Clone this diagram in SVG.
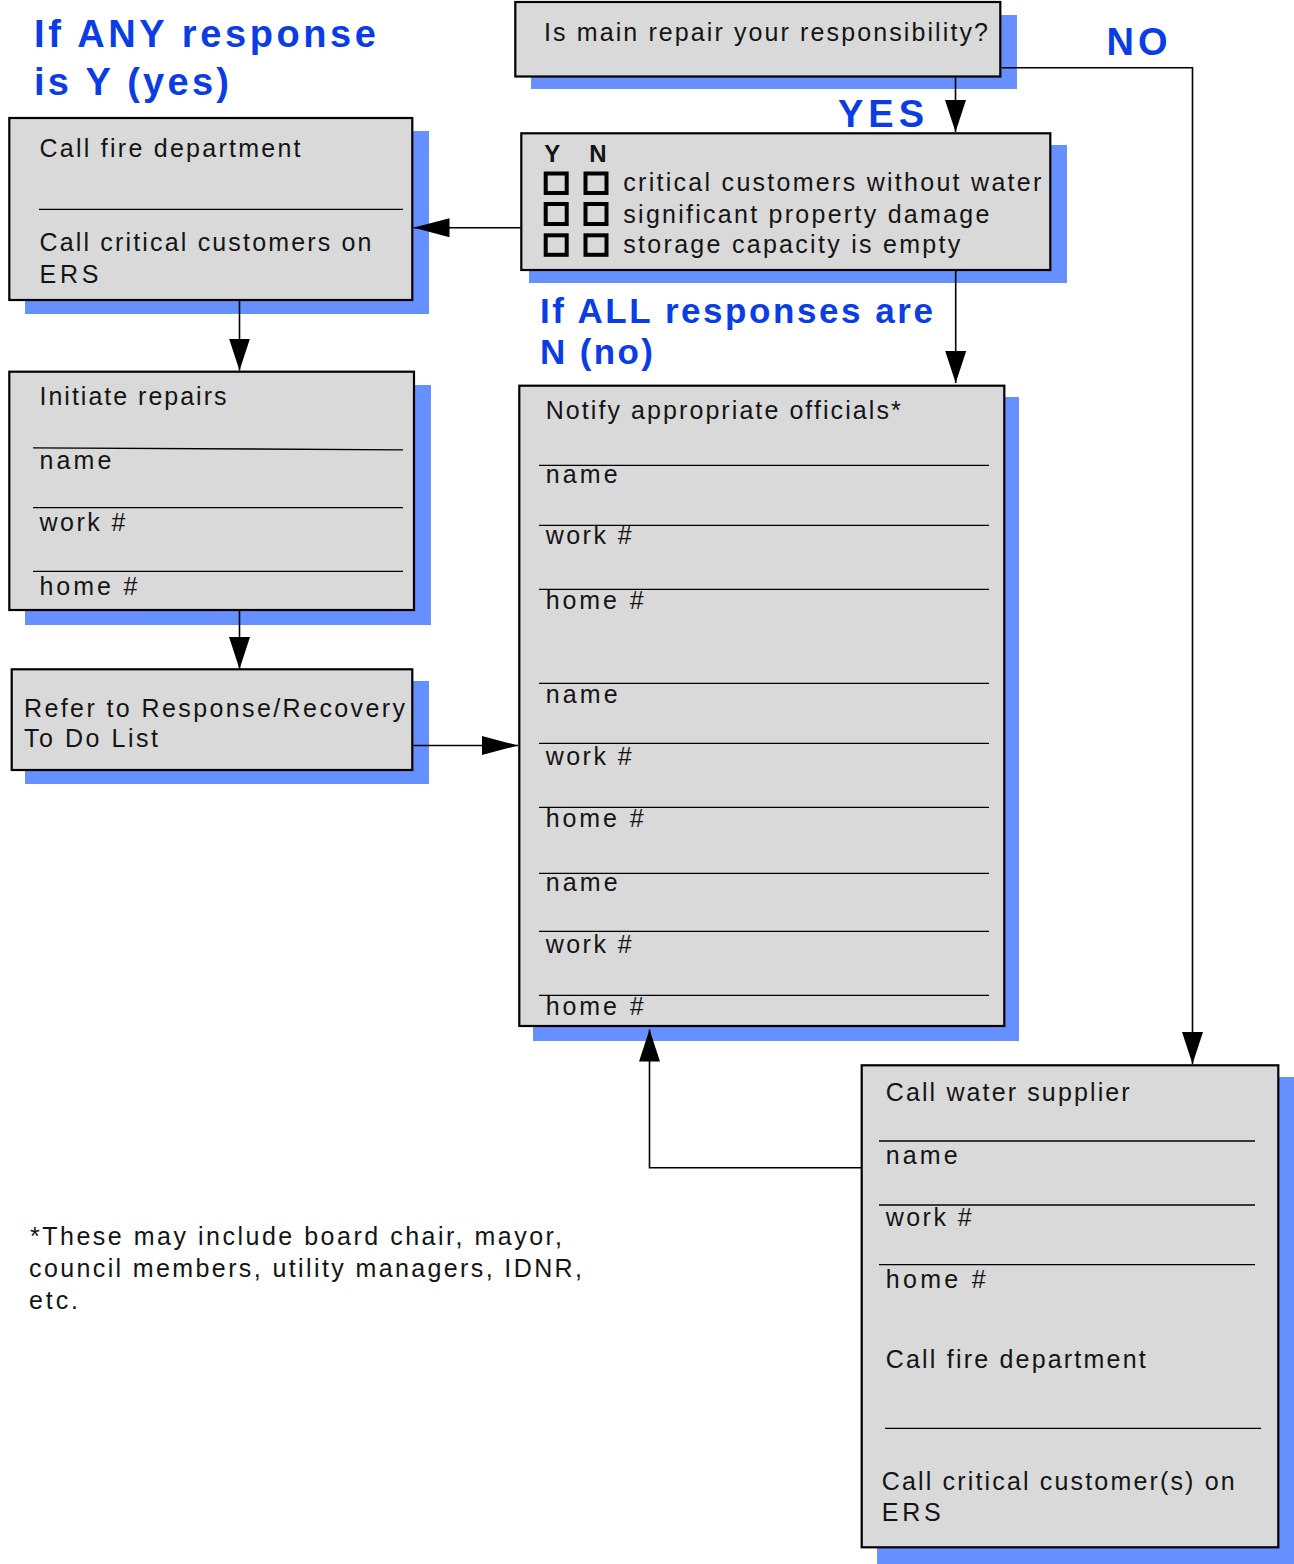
<svg xmlns="http://www.w3.org/2000/svg" width="1294" height="1564" viewBox="0 0 1294 1564">
<defs>
<style>
.box{fill:#d9d9d9;stroke:#000;stroke-width:2.2}
.sh{fill:#668fff}
.t{font-family:"Liberation Sans",Arial,Helvetica,sans-serif;font-size:25px;fill:#141414}
.b{font-family:"Liberation Sans",Arial,Helvetica,sans-serif;font-size:24px;font-weight:bold;fill:#141414}
.h{font-family:"Liberation Sans",Arial,Helvetica,sans-serif;font-weight:bold;fill:#0a3de6}
.rule{stroke:#000;stroke-width:1.3}
.cb{fill:none;stroke:#000;stroke-width:4}
.conn{stroke:#000;stroke-width:1.6;fill:none}
</style>
<marker id="ah" markerUnits="userSpaceOnUse" markerWidth="32" markerHeight="22" viewBox="0 0 32 22" refX="32" refY="11" orient="auto"><path d="M0,0.5 L32,11 L0,21.5z" fill="#000"/></marker>
<marker id="ahL" markerUnits="userSpaceOnUse" markerWidth="36" markerHeight="20" viewBox="0 0 36 20" refX="36" refY="10" orient="auto"><path d="M0,0.5 L36,10 L0,19.5z" fill="#000"/></marker>
</defs>
<rect width="1294" height="1564" fill="#fff"/>

<g id="labels">
<text class="h" font-size="38" x="34" y="47" textLength="342">If ANY response</text>
<text class="h" font-size="38" x="34" y="94.5" textLength="195">is Y (yes)</text>
<text class="h" font-size="38" x="838" y="126.7" textLength="86">YES</text>
<text class="h" font-size="38" x="1106.5" y="55" textLength="61">NO</text>
<text class="h" font-size="35" x="540" y="322.7" textLength="393">If ALL responses are</text>
<text class="h" font-size="35" x="540" y="364.3" textLength="113">N (no)</text>
</g>

<g id="node-question">
<rect class="sh" x="531" y="15" width="486" height="74"/>
<rect class="box" x="515.3" y="2" width="485" height="74.5"/>
<text class="t" x="544" y="40.7" textLength="444">Is main repair your responsibility?</text>
</g>

<g id="node-checklist">
<rect class="sh" x="529" y="145" width="538" height="138"/>
<rect class="box" x="521.3" y="133.3" width="529" height="136.7"/>
<text class="b" x="544.3" y="162.3">Y</text>
<text class="b" x="589.3" y="162.3">N</text>
<rect class="cb" x="545.7" y="173.5" width="21" height="19.5"/>
<rect class="cb" x="585.5" y="173.5" width="21" height="19.5"/>
<rect class="cb" x="545.7" y="204" width="21" height="20"/>
<rect class="cb" x="585.5" y="204" width="21" height="20"/>
<rect class="cb" x="545.7" y="235.3" width="21" height="19.5"/>
<rect class="cb" x="585.5" y="235.3" width="21" height="19.5"/>
<text class="t" x="623.3" y="191" textLength="418">critical customers without water</text>
<text class="t" x="623.3" y="222.7" textLength="366">significant property damage</text>
<text class="t" x="623.3" y="252.7" textLength="337">storage capacity is empty</text>
</g>

<g id="node-fire">
<rect class="sh" x="25" y="131" width="404" height="183"/>
<rect class="box" x="9.3" y="118" width="403" height="182"/>
<text class="t" x="39.5" y="157" textLength="261">Call fire department</text>
<line class="rule" x1="39" y1="209.3" x2="403" y2="209.3"/>
<text class="t" x="39.5" y="251" textLength="332">Call critical customers on</text>
<text class="t" x="39.5" y="282.5" textLength="59">ERS</text>
</g>

<g id="node-repairs">
<rect class="sh" x="25" y="385" width="406" height="240"/>
<rect class="box" x="9.3" y="371.7" width="404.7" height="238.3"/>
<text class="t" x="39.5" y="405" textLength="187">Initiate repairs</text>
<line class="rule" x1="33" y1="447.8" x2="403" y2="449.8" stroke-width="2"/>
<text class="t" x="39.5" y="469" textLength="72">name</text>
<line class="rule" x1="33" y1="507.7" x2="403" y2="507.7" stroke-width="1.8"/>
<text class="t" x="39.5" y="530.7" textLength="86">work #</text>
<line class="rule" x1="33" y1="571.3" x2="403" y2="571.3"/>
<text class="t" x="39.5" y="595" textLength="98">home #</text>
</g>

<g id="node-refer">
<rect class="sh" x="25" y="681" width="404" height="103"/>
<rect class="box" x="11.7" y="669.3" width="400.6" height="100.7"/>
<text class="t" x="24" y="717.3" textLength="381">Refer to Response/Recovery</text>
<text class="t" x="24" y="747.3" textLength="134">To Do List</text>
</g>

<g id="node-notify">
<rect class="sh" x="533" y="397" width="486" height="644"/>
<rect class="box" x="519.3" y="385.7" width="485" height="640.3"/>
<text class="t" x="545.7" y="419" textLength="355">Notify appropriate officials*</text>
<line class="rule" x1="539" y1="465.3" x2="989" y2="465.3"/>
<text class="t" x="545.7" y="482.7" textLength="72">name</text>
<line class="rule" x1="539" y1="525.3" x2="989" y2="525.3"/>
<text class="t" x="545.7" y="544.3" textLength="86">work #</text>
<line class="rule" x1="539" y1="589.3" x2="989" y2="589.3"/>
<text class="t" x="545.7" y="609" textLength="98">home #</text>
<line class="rule" x1="539" y1="683.3" x2="989" y2="683.3"/>
<text class="t" x="545.7" y="703.3" textLength="72">name</text>
<line class="rule" x1="539" y1="743.3" x2="989" y2="743.3"/>
<text class="t" x="545.7" y="765" textLength="86">work #</text>
<line class="rule" x1="539" y1="807.3" x2="989" y2="807.3"/>
<text class="t" x="545.7" y="827.3" textLength="98">home #</text>
<line class="rule" x1="539" y1="873.3" x2="989" y2="873.3"/>
<text class="t" x="545.7" y="891" textLength="72">name</text>
<line class="rule" x1="539" y1="931.3" x2="989" y2="931.3"/>
<text class="t" x="545.7" y="952.7" textLength="86">work #</text>
<line class="rule" x1="539" y1="995.3" x2="989" y2="995.3"/>
<text class="t" x="545.7" y="1015" textLength="98">home #</text>
</g>

<g id="node-water">
<rect class="sh" x="877" y="1077" width="417" height="487"/>
<rect class="box" x="861.7" y="1065.3" width="416.6" height="482"/>
<text class="t" x="885.7" y="1101" textLength="244">Call water supplier</text>
<line class="rule" x1="879" y1="1141" x2="1255" y2="1141"/>
<text class="t" x="885.7" y="1164.3" textLength="72">name</text>
<line class="rule" x1="879" y1="1205" x2="1255" y2="1205"/>
<text class="t" x="885.7" y="1226" textLength="86">work #</text>
<line class="rule" x1="879" y1="1264.7" x2="1255" y2="1264.7"/>
<text class="t" x="885.7" y="1287.7" textLength="100">home #</text>
<text class="t" x="885.7" y="1368.3" textLength="260">Call fire department</text>
<line class="rule" x1="885" y1="1428.3" x2="1261" y2="1428.3"/>
<text class="t" x="881.7" y="1490" textLength="353">Call critical customer(s) on</text>
<text class="t" x="881.7" y="1521" textLength="59">ERS</text>
</g>

<g id="footnote">
<text class="t" x="30" y="1245" textLength="532">*These may include board chair, mayor,</text>
<text class="t" x="29" y="1277" textLength="553">council members, utility managers, IDNR,</text>
<text class="t" x="29" y="1309" textLength="49">etc.</text>
</g>

<g id="connectors">
<path class="conn" d="M955.5,77.5 V132" marker-end="url(#ah)"/>
<path class="conn" d="M1001.5,67.7 H1192.5 V1064" marker-end="url(#ah)"/>
<path class="conn" d="M520.5,227.7 H413.5" marker-end="url(#ahL)"/>
<path class="conn" d="M955.7,271 V383" marker-end="url(#ah)"/>
<path class="conn" d="M239.5,301 V370.5" marker-end="url(#ah)"/>
<path class="conn" d="M239.5,611 V669" marker-end="url(#ah)"/>
<path class="conn" d="M413.5,745.5 H518" marker-end="url(#ahL)"/>
<path class="conn" d="M861,1167.7 H649.5 V1029.5" marker-end="url(#ah)"/>
</g>
</svg>
